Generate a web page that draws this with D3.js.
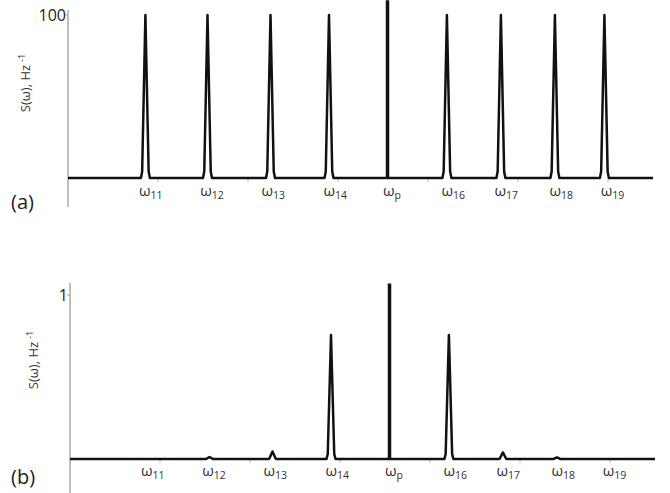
<!DOCTYPE html>
<html>
<head>
<meta charset="utf-8">
<script src="https://cdn.jsdelivr.net/npm/d3@7"></script>
<style>
  body { margin: 0; background: #fff; }
  text { font-family: "Open Sans", "DejaVu Sans", sans-serif; }
</style>
</head>
<body>
<script>
// peak labels and positions (x in tick units, ticks every 1 unit)
var subs = ["11", "12", "13", "14", "p", "16", "17", "18", "19"];
var peakPos = [0.86, 1.55, 2.25, 2.90, 3.55, 4.21, 4.81, 5.41, 5.96];
var labelPos = [0.92, 1.60, 2.28, 2.97, 3.60, 4.28, 4.87, 5.48, 6.05];
var pumpIndex = 4;

// heights, panel (a) and (b)
var valuesA = [100, 100, 100, 100, 109, 100, 100, 100, 100];
var valuesB = [0, 0.012, 0.046, 0.756, 1.07, 0.756, 0.04, 0.01, 0];

var minorTicks = [1, 2, 3, 4, 5, 6];

var svg = d3.select("body").append("svg")
  .attr("width", 670)
  .attr("height", 493);

var panels = [
  {name: "(a)", values: valuesA, yMax: 100, tick: "100", axisX: 68, axisTop: 10, axisBottom: 207, base: 178, top: 15, nameY: 209, ylabY: 83, ylabX: 30, labY: 196},
  {name: "(b)", values: valuesB, yMax: 1, tick: "1", axisX: 70, axisTop: 283, axisBottom: 493, base: 459, top: 295, nameY: 484, ylabY: 360, ylabX: 38, labY: 476}
];

panels.forEach(function(p) {
  var g = svg.append("g");
  var x = d3.scaleLinear().domain([0, 6.5]).range([p.axisX, p.axisX + 585]);
  var y = d3.scaleLinear().domain([0, p.yMax]).range([p.base, p.top]);

  // y axis, grey
  g.append("line")
    .attr("x1", p.axisX).attr("x2", p.axisX)
    .attr("y1", p.axisTop).attr("y2", p.axisBottom)
    .attr("stroke", "#aaa").attr("stroke-width", 1.5);
  g.append("line")
    .attr("x1", p.axisX - 3).attr("x2", p.axisX)
    .attr("y1", y(p.yMax)).attr("y2", y(p.yMax))
    .attr("stroke", "#aaa").attr("stroke-width", 1);
  g.append("text")
    .attr("x", p.axisX - 2).attr("y", y(p.yMax) + 6)
    .attr("text-anchor", "end")
    .attr("font-size", 16)
    .attr("fill", "#222")
    .text(p.tick);

  // minor x ticks
  g.selectAll(".mt").data(minorTicks).enter().append("line")
    .attr("x1", function(d) { return x(d); })
    .attr("x2", function(d) { return x(d); })
    .attr("y1", p.base).attr("y2", p.base + 4)
    .attr("stroke", "#bbb").attr("stroke-width", 1);

  // spectrum: baseline with triangular peaks
  var pts = [[0, 0]];
  peakPos.forEach(function(c, i) {
    if (i == pumpIndex) return;
    var v = p.values[i];
    if (v > 0) {
      pts.push([c - 0.05, 0]);
      pts.push([c - 0.036, v * 0.04]);
      pts.push([c, v]);
      pts.push([c + 0.036, v * 0.04]);
      pts.push([c + 0.05, 0]);
    }
  });
  pts.push([6.5, 0]);

  var line = d3.line()
    .x(function(d) { return x(d[0]); })
    .y(function(d) { return y(d[1]); });

  g.append("path")
    .attr("d", line(pts))
    .attr("fill", "none")
    .attr("stroke", "#111")
    .attr("stroke-width", 2.5)
    .attr("stroke-linejoin", "round");

  // pump spike
  g.append("line")
    .attr("x1", x(peakPos[pumpIndex])).attr("x2", x(peakPos[pumpIndex]))
    .attr("y1", y(0)).attr("y2", y(p.values[pumpIndex]))
    .attr("stroke", "#111").attr("stroke-width", 3.5);

  // peak labels
  var lab = g.selectAll(".lab").data(subs).enter().append("text")
    .attr("x", function(d, i) { return x(labelPos[i]); })
    .attr("y", p.labY)
    .attr("text-anchor", "middle")
    .attr("font-size", 15)
    .attr("fill", "#333");
  lab.append("tspan").text("ω");
  lab.append("tspan")
    .attr("font-size", 10.5)
    .attr("dy", 3)
    .text(function(d) { return d; });

  // y label
  var yl = g.append("text")
    .attr("transform", "translate(" + p.ylabX + "," + p.ylabY + ") rotate(-90)")
    .attr("text-anchor", "middle")
    .attr("font-size", 13)
    .attr("fill", "#333");
  yl.append("tspan").text("S(ω), Hz");
  yl.append("tspan").attr("font-size", 9).attr("dy", -5).attr("dx", 3).text("-1");

  // panel letter
  g.append("text")
    .attr("x", 11).attr("y", p.nameY)
    .attr("font-family", "Liberation Sans, Arial, sans-serif")
    .attr("font-size", 20)
    .attr("fill", "#222")
    .text(p.name);
});
</script>
</body>
</html>
